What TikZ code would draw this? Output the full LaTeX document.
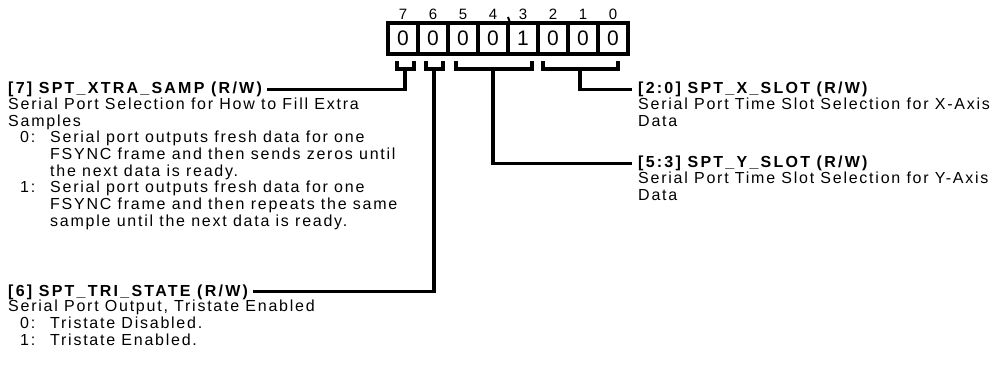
\documentclass[tikz,border=0pt]{standalone}
\usepackage{fontspec}
\setmainfont{Liberation Sans}
\newfontfamily\descfont[LetterSpace=11]{Liberation Sans}
\newfontfamily\titlefont[LetterSpace=14]{Liberation Sans}
\begin{document}
\begin{tikzpicture}[x=1pt,y=-1pt,
  wire/.style={line width=3.1pt},
  regtitle/.style={anchor=base west,inner sep=0pt,font=\titlefont\bfseries\fontsize{16}{16.7}\selectfont},
  regdesc/.style={anchor=base west,inner sep=0pt,align=left,font=\descfont\fontsize{16}{16.7}\selectfont},
  cell/.style={draw,line width=3.1pt,minimum width=30pt,minimum height=31pt,inner sep=0pt,font=\fontsize{21}{21}\selectfont},
  bitnum/.style={inner sep=0pt,font=\fontsize{15}{15}\selectfont}]
\useasboundingbox (0,0) rectangle (1004,366);
% bit numbers
\node[bitnum] (n7) at (403,14.5) {7};
\node[bitnum] (n6) at (433,14.5) {6};
\node[bitnum] (n5) at (463,14.5) {5};
\node[bitnum] (n4) at (493,14.5) {4};
\node[bitnum] (n3) at (523,14.5) {3};
\node[bitnum] (n2) at (553,14.5) {2};
\node[bitnum] (n1) at (583,14.5) {1};
\node[bitnum] (n0) at (613,14.5) {0};
% cells
\node[cell] (c7) at (403,38.5) {0};
\node[cell] (c6) at (433,38.5) {0};
\node[cell] (c5) at (463,38.5) {0};
\node[cell] (c4) at (493,38.5) {0};
\node[cell] (c3) at (523,38.5) {1};
\node[cell] (c2) at (553,38.5) {0};
\node[cell] (c1) at (583,38.5) {0};
\node[cell] (c0) at (613,38.5) {0};
\coordinate (tick) at (508,17);
\draw[line width=2pt] (tick) -- (c4.north east);
% braces
\draw[wire] (397,61) |- (414,69) -- (414,61);
\draw[wire] (426,61) |- (443,69) -- (443,61);
\draw[wire] (456,61) |- (532,69) -- (532,61);
\draw[wire] (543,61) |- (618,69) -- (618,61);
\coordinate (s7) at (405,69);
\coordinate (s6) at (434,69);
\coordinate (s53) at (493,69);
\coordinate (s20) at (580,69);
% labels
\node[regtitle] (t7) at (8,93.5) {[7] SPT\_XTRA\_SAMP (R/W)};
\node[regdesc] (d7) at (8,226.4) {Serial Port Selection for How to Fill Extra\\
Samples\\
\hspace*{12pt}\makebox[30pt][l]{0:}Serial port outputs fresh data for one\\
\hspace*{42pt}FSYNC frame and then sends zeros until\\
\hspace*{42pt}the next data is ready.\\
\hspace*{12pt}\makebox[30pt][l]{1:}Serial port outputs fresh data for one\\
\hspace*{42pt}FSYNC frame and then repeats the same\\
\hspace*{42pt}sample until the next data is ready.};
\node[regtitle] (t6) at (8,296) {[6] SPT\_TRI\_STATE (R/W)};
\node[regdesc] (d6) at (8,345) {Serial Port Output, Tristate Enabled\\
\hspace*{12pt}\makebox[30pt][l]{0:}Tristate Disabled.\\
\hspace*{12pt}\makebox[30pt][l]{1:}Tristate Enabled.};
\node[regtitle] (tx) at (638,93.5) {[2:0] SPT\_X\_SLOT (R/W)};
\node[regdesc] (dx) at (638,126.2) {Serial Port Time Slot Selection for X-Axis\\Data};
\node[regtitle] (ty) at (638,168) {[5:3] SPT\_Y\_SLOT (R/W)};
\node[regdesc] (dy) at (638,200.7) {Serial Port Time Slot Selection for Y-Axis\\Data};
% connectors
\draw[wire] (s7) |- ([xshift=5pt]t7.east);
\draw[wire] (s6) |- ([xshift=5pt]t6.east);
\draw[wire] (s53) |- ([xshift=-6pt]ty.west);
\draw[wire] (s20) |- ([xshift=-6pt]tx.west);
\end{tikzpicture}
\end{document}
